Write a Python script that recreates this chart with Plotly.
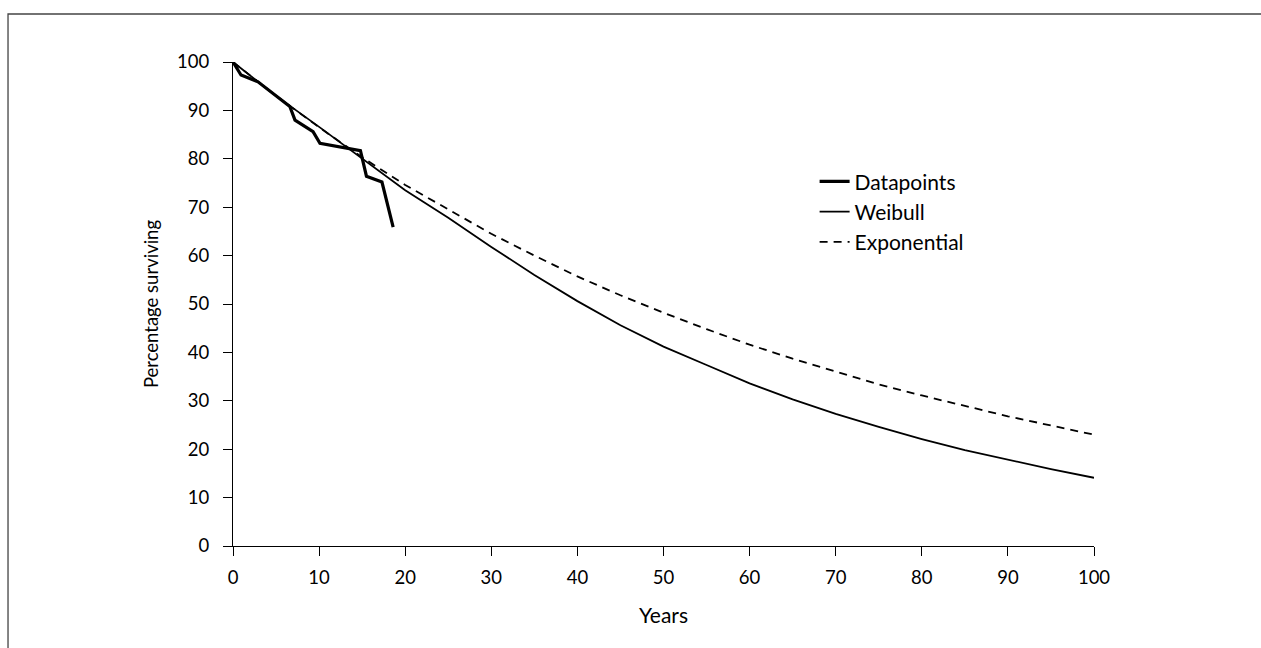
import plotly.graph_objects as go

# Data
data_years = [0, 0.93, 2.9, 6.6, 7.2, 9.3, 10.1, 13.0, 14.8, 15.5, 17.3, 18.6]
data_pct = [100, 97.3, 95.9, 90.8, 88.0, 85.6, 83.2, 82.2, 81.7, 76.4, 75.2, 65.9]

model_years = [0, 5, 10, 15, 20, 25, 30, 35, 40, 45, 50, 55, 60, 65, 70, 75, 80, 85, 90, 95, 100]
weibull_pct = [100, 93, 86.6, 80, 73.5, 67.8, 61.8, 56, 50.6, 45.6, 41.2, 37.4, 33.6, 30.3,
               27.3, 24.6, 22.1, 19.8, 17.8, 15.9, 14.1]
expo_pct = [100, 93, 86.5, 80.3, 74.6, 69.5, 64.5, 60, 55.7, 51.8, 48.2, 44.8, 41.6, 38.7,
            36, 33.4, 31.1, 28.9, 26.8, 24.9, 23]

tick_vals = [0, 10, 20, 30, 40, 50, 60, 70, 80, 90, 100]

FONT = "Lato"

fig = go.Figure()
fig.add_trace(go.Scatter(x=data_years, y=data_pct, mode="lines", name="Datapoints",
                         line=dict(color="black", width=3.2)))
fig.add_trace(go.Scatter(x=model_years, y=weibull_pct, mode="lines", name="Weibull",
                         line=dict(color="black", width=1.8)))
fig.add_trace(go.Scatter(x=model_years, y=expo_pct, mode="lines", name="Exponential",
                         line=dict(color="black", width=1.8, dash="8px,6px")))

axis_common = dict(
    showgrid=False, zeroline=False, showline=True, linecolor="black", linewidth=1.2,
    ticks="outside", ticklen=9, tickwidth=1.2, tickcolor="black",
    tickfont=dict(family=FONT, size=18.5, color="black"),
    tickvals=tick_vals, range=[0, 100],
)

fig.update_layout(
    width=1261, height=648,
    margin=dict(l=233, r=167, t=62, b=102),
    paper_bgcolor="white", plot_bgcolor="white",
    font=dict(family=FONT, size=18, color="black"),
    xaxis=dict(**axis_common, ticklabelstandoff=6,
               title=dict(text="Years", font=dict(family=FONT, size=21), standoff=21)),
    yaxis=dict(**axis_common, ticklabelstandoff=10,
               title=dict(text="Percentage surviving", font=dict(family=FONT, size=18.5), standoff=13)),
    legend=dict(x=0.6755, y=0.795, xanchor="left", yanchor="top",
                bgcolor="rgba(0,0,0,0)", borderwidth=0,
                font=dict(family=FONT, size=21, color="black"),
                tracegroupgap=0),
    showlegend=True,
    shapes=[dict(type="path", xref="paper", yref="paper",
                 path="M -0.2613,-0.2107 L -0.2613,1.0992 L 1.194,1.0992",
                 line=dict(color="#444444", width=1.3), fillcolor="rgba(0,0,0,0)",
                 layer="below")],
)

fig.write_html("out.html", config={"displayModeBar": False})
